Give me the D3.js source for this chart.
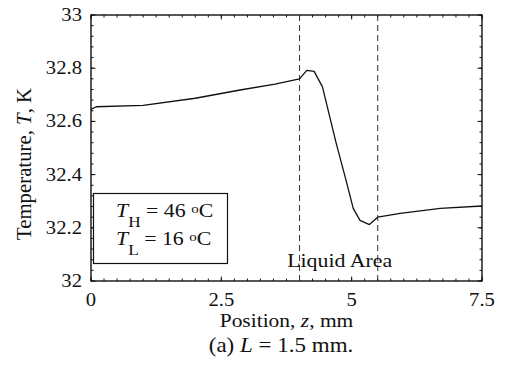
<!DOCTYPE html>
<html>
<head>
<meta charset="utf-8">
<script src="https://cdn.jsdelivr.net/npm/d3@7"></script>
<style>
  html, body { margin: 0; padding: 0; background: #fff; }
  svg { display: block; }
  text { font-family: "Liberation Serif", "Times New Roman", serif; fill: #111; }
</style>
</head>
<body>
<svg id="chart" width="506" height="365"></svg>
<script>
// Temperature profile along z
const positions = [0, 0.1, 1.0, 2.0, 2.86, 3.53, 4.0, 4.14, 4.28, 4.44, 4.7, 4.89, 5.03, 5.16, 5.34, 5.5, 5.93, 6.7, 7.5];
const temps = [32.645, 32.655, 32.66, 32.687, 32.718, 32.74, 32.76, 32.792, 32.788, 32.73, 32.52, 32.38, 32.273, 32.228, 32.212, 32.24, 32.254, 32.273, 32.282];

const xTicks = [0, 2.5, 5, 7.5];
const xTickLabels = ["0", "2.5", "5", "7.5"];
const yTicks = [32, 32.2, 32.4, 32.6, 32.8, 33];
const yTickLabels = ["32", "32.2", "32.4", "32.6", "32.8", "33"];
const liquidBounds = [4.0, 5.5];

const svg = d3.select("#chart");
const margin = { left: 91, right: 24, top: 15, bottom: 84 };
const W = 506, H = 365;

const x = d3.scaleLinear().domain([0, 7.5]).range([margin.left, W - margin.right]);
const y = d3.scaleLinear().domain([32, 33]).range([H - margin.bottom, margin.top]);

const x0 = x.range()[0], x1 = x.range()[1];
const y0 = y.range()[0], y1 = y.range()[1];

const xMinor = d3.range(0, 7.5001, 0.25);
const yMinor = d3.range(32, 33.0001, 0.04);

const ink = "#111";

// ticks on all four sides, pointing inward
function tickSet(vals, len, scale, horizontal) {
  vals.forEach(v => {
    if (horizontal) {
      const px = scale(v);
      svg.append("line").attr("x1", px).attr("x2", px).attr("y1", y0).attr("y2", y0 - len).attr("stroke", ink).attr("stroke-width", 1);
      svg.append("line").attr("x1", px).attr("x2", px).attr("y1", y1).attr("y2", y1 + len).attr("stroke", ink).attr("stroke-width", 1);
    } else {
      const py = scale(v);
      svg.append("line").attr("y1", py).attr("y2", py).attr("x1", x0).attr("x2", x0 + len).attr("stroke", ink).attr("stroke-width", 1);
      svg.append("line").attr("y1", py).attr("y2", py).attr("x1", x1).attr("x2", x1 - len).attr("stroke", ink).attr("stroke-width", 1);
    }
  });
}
tickSet(xMinor, 2.5, x, true);
tickSet(xTicks, 4.5, x, true);
tickSet(yMinor, 2.5, y, false);
tickSet(yTicks, 4.5, y, false);

// liquid region boundaries
liquidBounds.forEach(v => {
  svg.append("line")
    .attr("x1", x(v)).attr("x2", x(v))
    .attr("y1", y1).attr("y2", y0)
    .attr("stroke", "#333").attr("stroke-width", 1)
    .attr("stroke-dasharray", "6,4");
});

// temperature curve
const pts = positions.map((p, i) => [p, temps[i]]);
svg.append("path")
  .datum(pts)
  .attr("fill", "none")
  .attr("stroke", ink)
  .attr("stroke-width", 1.3)
  .attr("stroke-linejoin", "round")
  .attr("d", d3.line().x(d => x(d[0])).y(d => y(d[1])));

// frame
svg.append("rect")
  .attr("x", x0).attr("y", y1)
  .attr("width", x1 - x0).attr("height", y0 - y1)
  .attr("fill", "none").attr("stroke", ink).attr("stroke-width", 1.4);

// text placed at (px,py), widened by sx (the serif face here runs a bit narrow)
function wideText(px, py, sx, size, anchor) {
  return svg.append("g")
    .attr("transform", `translate(${px},${py}) scale(${sx},1)`)
    .append("text")
    .attr("text-anchor", anchor || "start")
    .attr("font-size", size);
}

// tick labels
xTicks.forEach((d, i) => {
  wideText(x(d), y0 + 25, 1.06, 19.5, "middle").text(xTickLabels[i]);
});
yTicks.forEach((d, i) => {
  wideText(x0 - 9, y(d) + 6, 1.06, 19.5, "end").text(yTickLabels[i]);
});

// axis titles
const xt = wideText((x0 + x1) / 2, 327, 1.13, 19, "middle");
xt.append("tspan").text("Position, ");
xt.append("tspan").attr("font-style", "italic").text("z");
xt.append("tspan").text(", mm");

const yt = svg.append("text")
  .attr("transform", `translate(31,164) rotate(-90) scale(1.04,1)`)
  .attr("text-anchor", "middle").attr("font-size", 20);
yt.append("tspan").text("Temperature, ");
yt.append("tspan").attr("font-style", "italic").text("T");
yt.append("tspan").text(", K");

const cap = wideText(281, 352, 1.15, 20, "middle");
cap.append("tspan").text("(a) ");
cap.append("tspan").attr("font-style", "italic").text("L");
cap.append("tspan").text(" = 1.5 mm.");

// region label
wideText(x((liquidBounds[0] + liquidBounds[1]) / 2) + 1, 267, 1.15, 19, "middle")
  .text("Liquid Area");

// condition box
svg.append("rect")
  .attr("x", 93.5).attr("y", 193.5).attr("width", 134).attr("height", 70)
  .attr("fill", "#fff").attr("stroke", ink).attr("stroke-width", 1.2);

function condLine(sub, val, baseY) {
  const t = wideText(116, baseY, 1.15, 19);
  t.append("tspan").attr("font-style", "italic").text("T");
  t.append("tspan").attr("dy", 10).attr("font-size", 15).text(sub);
  t.append("tspan").attr("dy", -10).text(" = " + val + " ");
  t.append("tspan").attr("dy", -4).attr("font-size", 13).text("o");
  t.append("tspan").attr("dy", 4).text("C");
}
condLine("H", 46, 217);
condLine("L", 16, 245);
</script>
</body>
</html>
